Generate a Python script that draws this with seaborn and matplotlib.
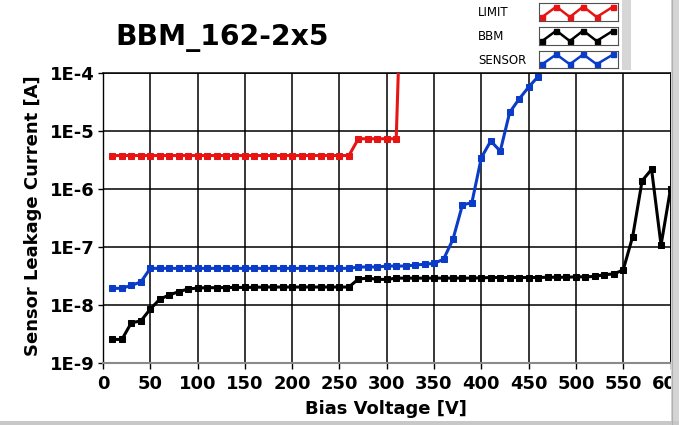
import matplotlib
matplotlib.use("Agg")
import matplotlib.pyplot as plt
import seaborn as sns
import pandas as pd
from matplotlib.patches import Rectangle
from matplotlib.lines import Line2D

# ---------------- data ----------------
title_text = "BBM_162-2x5"
series_names = ["LIMIT", "BBM", "SENSOR"]
series_colors = ["#e81414", "#000000", "#0a3cc8"]

limit_volts = [10, 20, 30, 40, 50, 60, 70, 80, 90, 100, 110, 120, 130, 140, 150,
               160, 170, 180, 190, 200, 210, 220, 230, 240, 250, 260,
               270, 280, 290, 300, 310, 320]
limit_vals = [3.7e-6] * 26 + [7.2e-6, 7.2e-6, 7.2e-6, 7.2e-6, 7.2e-6, 1.0]

bbm_volts = list(range(10, 610, 10))
bbm_vals = [2.5e-9, 2.5e-9, 4.85e-9, 5.2e-9, 8.35e-9, 1.23e-8, 1.46e-8, 1.66e-8, 1.85e-8, 1.92e-8,
            1.95e-8, 1.95e-8, 1.96e-8, 1.97e-8, 1.97e-8, 1.98e-8, 2.0e-8, 2.0e-8, 2.0e-8, 2.0e-8,
            2.0e-8, 2.0e-8, 2.0e-8, 2.0e-8, 2.0e-8, 2.0e-8, 2.75e-8, 2.85e-8, 2.72e-8, 2.7e-8,
            2.85e-8, 2.85e-8, 2.85e-8, 2.85e-8, 2.85e-8, 2.85e-8, 2.85e-8, 2.85e-8, 2.85e-8, 2.88e-8,
            2.92e-8, 2.92e-8, 2.92e-8, 2.92e-8, 2.92e-8, 2.92e-8, 2.95e-8, 2.95e-8, 2.95e-8, 3.0e-8,
            3.0e-8, 3.05e-8, 3.27e-8, 3.36e-8, 3.94e-8, 1.48e-7, 1.36e-6, 2.14e-6, 1.06e-7, 9.8e-7]

sensor_volts = list(range(10, 470, 10))
sensor_vals = [1.9e-8, 1.9e-8, 2.14e-8, 2.44e-8, 4.2e-8, 4.2e-8, 4.2e-8, 4.2e-8, 4.2e-8, 4.2e-8,
               4.2e-8, 4.2e-8, 4.2e-8, 4.2e-8, 4.2e-8, 4.2e-8, 4.2e-8, 4.2e-8, 4.2e-8, 4.2e-8,
               4.2e-8, 4.2e-8, 4.2e-8, 4.2e-8, 4.2e-8, 4.2e-8, 4.43e-8, 4.43e-8, 4.43e-8, 4.6e-8,
               4.6e-8, 4.6e-8, 4.8e-8, 4.93e-8, 5.13e-8, 6.0e-8, 1.33e-7, 5.2e-7, 5.7e-7, 3.4e-6,
               6.6e-6, 4.4e-6, 2.06e-5, 3.5e-5, 5.6e-5, 8.5e-5]

x_ticks = [0, 50, 100, 150, 200, 250, 300, 350, 400, 450, 500, 550, 600]
y_ticks = [1e-9, 1e-8, 1e-7, 1e-6, 1e-5, 1e-4]
y_tick_labels = ["1E-9", "1E-8", "1E-7", "1E-6", "1E-5", "1E-4"]
x_label = "Bias Voltage [V]"
y_label = "Sensor Leakage Current [A]"

# legend swatch zigzag shape (unit box)
swatch_x = [0.04, 0.22, 0.39, 0.56, 0.73, 0.94]
swatch_y = [0.22, 0.80, 0.22, 0.80, 0.22, 0.80]

# ---------------- figure ----------------
sns.set_theme(style="white")
plt.rcParams["font.family"] = ["DejaVu Sans"]
plt.rcParams["text.color"] = "black"
plt.rcParams["axes.labelcolor"] = "black"
plt.rcParams["xtick.color"] = "black"
plt.rcParams["ytick.color"] = "black"

W, H = 679, 425
fig = plt.figure(figsize=(W / 100, H / 100), dpi=100)
fig.patch.set_facecolor("white")


def fx(x):
    return x / W


def fy(y):
    return 1 - y / H


left_px, right_px, top_px, bot_px = 103, 670.5, 72.5, 362.5
ax = fig.add_axes([fx(left_px), fy(bot_px), (right_px - left_px) / W, (bot_px - top_px) / H])
ax.set_facecolor("white")
ax.set_yscale("log")

frames = {
    "LIMIT": pd.DataFrame({"V": limit_volts, "I": limit_vals}),
    "BBM": pd.DataFrame({"V": bbm_volts, "I": bbm_vals}),
    "SENSOR": pd.DataFrame({"V": sensor_volts, "I": sensor_vals}),
}
for name, col in zip(series_names, series_colors):
    sns.lineplot(data=frames[name], x="V", y="I", ax=ax, color=col, linewidth=2.2,
                 marker="s", markersize=4.6, markeredgecolor=col, markerfacecolor=col,
                 errorbar=None, legend=False, zorder=3)

ax.set_xlim(0, 600)
ax.set_ylim(1e-9, 1e-4)
ax.set_xticks(x_ticks)
ax.set_xticklabels([str(t) for t in x_ticks])
ax.set_yticks(y_ticks)
ax.set_yticklabels(y_tick_labels)
ax.yaxis.set_minor_locator(matplotlib.ticker.NullLocator())
ax.grid(True, which="major", color="black", linewidth=1.1)
ax.set_axisbelow(True)
ax.set_xlabel("")
ax.set_ylabel("")
ax.tick_params(axis="x", which="major", direction="out", length=4.5, width=1.0, color="black",
               bottom=True, pad=4.5, labelsize=13, labelcolor="black")
ax.tick_params(axis="y", which="major", direction="out", length=3.6, width=1.0, color="black",
               left=True, pad=2.5, labelsize=13, labelcolor="black")
for lab in ax.get_xticklabels() + ax.get_yticklabels():
    lab.set_fontweight("bold")

for s in ["top", "right"]:
    ax.spines[s].set_visible(True)
    ax.spines[s].set_color("black")
    ax.spines[s].set_linewidth(1.1)
ax.spines["left"].set_color("black")
ax.spines["left"].set_linewidth(1.0)
ax.spines["bottom"].set_color("#8a8a8a")
ax.spines["bottom"].set_linewidth(1.5)

# texts
fig.text(fx(222), fy(45), title_text, fontsize=20.3, fontweight="bold", ha="center",
         va="baseline", color="black")
fig.text(fx(386), fy(414), x_label, fontsize=13, fontweight="bold", ha="center",
         va="baseline", color="black")
fig.text(fx(38.5), fy(216), y_label, fontsize=13, fontweight="bold", ha="center", va="baseline",
         rotation=90, rotation_mode="anchor", color="black")

# legend panel
legend_rows = [(3, 21, 12), (27, 45, 36), (51, 68, 60)]
for name, col, (yt, yb, yc) in zip(series_names, series_colors, legend_rows):
    fig.text(fx(478), fy(yc), name, fontsize=8.5, ha="left", va="center", color="black")
    sax = fig.add_axes([fx(539), fy(yb), 79 / W, (yb - yt) / H])
    sax.set_facecolor("white")
    sax.plot(swatch_x, swatch_y, color=col, linewidth=1.8, marker="s", markersize=3.6,
             markeredgecolor=col, markerfacecolor=col)
    sax.set_xlim(0, 1)
    sax.set_ylim(0, 1)
    sax.set_xticks([])
    sax.set_yticks([])
    for s in sax.spines.values():
        s.set_color("#505050")
        s.set_linewidth(0.8)

# window chrome
fig.patches.append(Rectangle((fx(622), fy(70)), 9 / W, 70 / H, transform=fig.transFigure,
                             facecolor="#d6d6d6", edgecolor="none", zorder=5))
fig.patches.append(Rectangle((fx(671), 0), 8 / W, 1, transform=fig.transFigure,
                             facecolor="#d4d4d4", edgecolor="none", zorder=10))
fig.lines.append(Line2D([fx(671.5), fx(671.5)], [0, 1], transform=fig.transFigure,
                        color="#b0b0b0", linewidth=0.8, zorder=11))
fig.patches.append(Rectangle((0, 0), 1, 4 / H, transform=fig.transFigure,
                             facecolor="#c8c8c8", edgecolor="none", zorder=10))

fig.savefig("out.png", dpi=100, facecolor="white")
